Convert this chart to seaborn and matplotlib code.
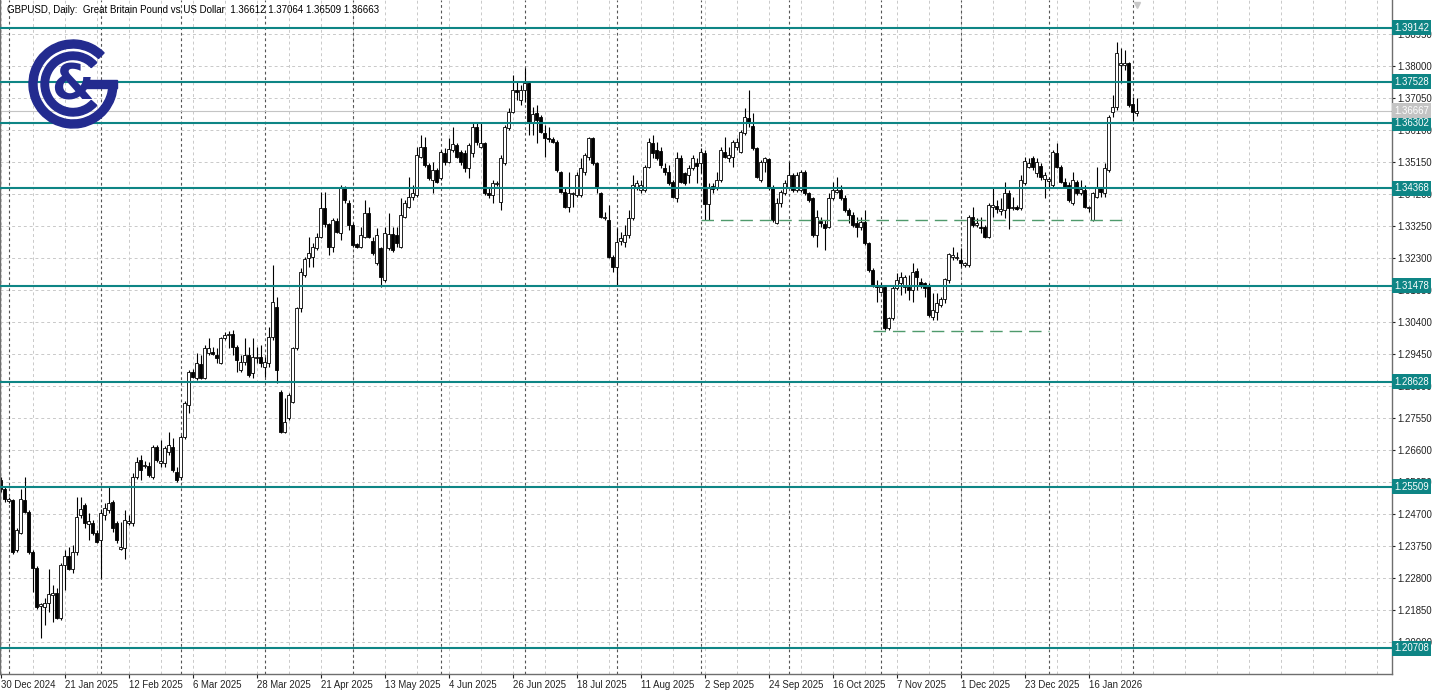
import numpy as np
import pandas as pd
import matplotlib
matplotlib.use("Agg")
import matplotlib.pyplot as plt
import seaborn as sns
from matplotlib.patches import Wedge, Rectangle
from matplotlib.transforms import blended_transform_factory

# ---------------- data ----------------
symbol_title = "GBPUSD, Daily:  Great Britain Pound vs US Dollar  1.36612 1.37064 1.36509 1.36663"

open_ = [
    1.2570, 1.2544, 1.2508, 1.2511, 1.2363, 1.2413, 1.2511, 1.2475, 1.2357, 1.2309,
    1.2196, 1.2193, 1.2205, 1.2229, 1.2235, 1.2161, 1.2318, 1.2345, 1.2306, 1.2357,
    1.2466, 1.2496, 1.2440, 1.2443, 1.2413, 1.2392, 1.2466, 1.2481, 1.2505, 1.2443,
    1.2366, 1.2369, 1.2443, 1.2443, 1.2579, 1.2630, 1.2612, 1.2612, 1.2579, 1.2669,
    1.2621, 1.2621, 1.2654, 1.2669, 1.2594, 1.2579, 1.2698, 1.2793, 1.2891, 1.2873,
    1.2915, 1.2873, 1.2948, 1.2951, 1.2942, 1.2918, 1.2992, 1.3001, 1.3004, 1.2966,
    1.2897, 1.2921, 1.2942, 1.2888, 1.2933, 1.2936, 1.2906, 1.2918, 1.2995, 1.3084,
    1.2832, 1.2713, 1.2755, 1.2802, 1.2963, 1.3081, 1.3179, 1.3230, 1.3233, 1.3260,
    1.3292, 1.3378, 1.3331, 1.3263, 1.3340, 1.3304, 1.3438, 1.3393, 1.3328, 1.3272,
    1.3263, 1.3292, 1.3363, 1.3280, 1.3215, 1.3260, 1.3164, 1.3260, 1.3301, 1.3298,
    1.3263, 1.3351, 1.3381, 1.3411, 1.3417, 1.3530, 1.3560, 1.3506, 1.3461, 1.3491,
    1.3467, 1.3542, 1.3515, 1.3551, 1.3566, 1.3545, 1.3542, 1.3497, 1.3542, 1.3619,
    1.3560, 1.3571, 1.3423, 1.3417, 1.3449, 1.3396, 1.3512, 1.3616, 1.3663, 1.3729,
    1.3699, 1.3729, 1.3750, 1.3634, 1.3660, 1.3648, 1.3601, 1.3586, 1.3583, 1.3574,
    1.3485, 1.3426, 1.3381, 1.3420, 1.3417, 1.3417, 1.3485, 1.3530, 1.3586, 1.3512,
    1.3423, 1.3349, 1.3343, 1.3233, 1.3203, 1.3280, 1.3277, 1.3298, 1.3349, 1.3441,
    1.3432, 1.3432, 1.3500, 1.3571, 1.3551, 1.3548, 1.3497, 1.3485, 1.3455, 1.3408,
    1.3527, 1.3482, 1.3476, 1.3497, 1.3512, 1.3512, 1.3542, 1.3390, 1.3444, 1.3438,
    1.3461, 1.3545, 1.3527, 1.3530, 1.3560, 1.3545, 1.3601, 1.3645, 1.3622, 1.3557,
    1.3461, 1.3515, 1.3524, 1.3441, 1.3334, 1.3393, 1.3423, 1.3441, 1.3476, 1.3432,
    1.3432, 1.3485, 1.3423, 1.3408, 1.3298, 1.3340, 1.3331, 1.3322, 1.3408, 1.3426,
    1.3432, 1.3408, 1.3372, 1.3357, 1.3334, 1.3322, 1.3337, 1.3274, 1.3194, 1.3150,
    1.3129, 1.3144, 1.3022, 1.3052, 1.3141, 1.3155, 1.3144, 1.3144, 1.3135, 1.3191,
    1.3158, 1.3155, 1.3150, 1.3055, 1.3069, 1.3090, 1.3108, 1.3164, 1.3233, 1.3230,
    1.3224, 1.3209, 1.3209, 1.3351, 1.3328, 1.3322, 1.3322, 1.3292, 1.3381, 1.3384,
    1.3369, 1.3372, 1.3423, 1.3378, 1.3381, 1.3378, 1.3452, 1.3500, 1.3527, 1.3482,
    1.3503, 1.3464, 1.3458, 1.3447, 1.3542, 1.3500, 1.3455, 1.3447, 1.3393, 1.3455,
    1.3423, 1.3432, 1.3378, 1.3343, 1.3411, 1.3438, 1.3423, 1.3491, 1.3663, 1.3678,
    1.3803, 1.3803, 1.3809, 1.3687, 1.36612,
]

high = [
    1.2579, 1.2553, 1.2520, 1.2514, 1.2428, 1.2544, 1.2579, 1.2481, 1.2363, 1.2315,
    1.2205, 1.2220, 1.2306, 1.2258, 1.2250, 1.2324, 1.2363, 1.2372, 1.2378, 1.2520,
    1.2520, 1.2502, 1.2472, 1.2452, 1.2422, 1.2484, 1.2502, 1.2553, 1.2511, 1.2449,
    1.2446, 1.2481, 1.2466, 1.2591, 1.2639, 1.2645, 1.2627, 1.2624, 1.2675, 1.2675,
    1.2689, 1.2672, 1.2713, 1.2695, 1.2609, 1.2704, 1.2805, 1.2897, 1.2900, 1.2948,
    1.2942, 1.2972, 1.2992, 1.2966, 1.2963, 1.2995, 1.3010, 1.3013, 1.3016, 1.2972,
    1.2942, 1.2992, 1.2966, 1.2992, 1.2966, 1.2972, 1.2936, 1.3025, 1.3209, 1.3114,
    1.2838, 1.2814, 1.2829, 1.2966, 1.3084, 1.3200, 1.3233, 1.3292, 1.3274, 1.3304,
    1.3426, 1.3426, 1.3334, 1.3349, 1.3349, 1.3447, 1.3444, 1.3402, 1.3334, 1.3274,
    1.3322, 1.3402, 1.3381, 1.3292, 1.3319, 1.3263, 1.3322, 1.3363, 1.3322, 1.3322,
    1.3408, 1.3402, 1.3470, 1.3447, 1.3560, 1.3595, 1.3589, 1.3512, 1.3515, 1.3497,
    1.3551, 1.3557, 1.3586, 1.3619, 1.3571, 1.3551, 1.3551, 1.3571, 1.3631, 1.3631,
    1.3631, 1.3574, 1.3438, 1.3461, 1.3458, 1.3536, 1.3625, 1.3675, 1.3773, 1.3752,
    1.3744, 1.3794, 1.3752, 1.3678, 1.3684, 1.3654, 1.3625, 1.3619, 1.3589, 1.3580,
    1.3488, 1.3438, 1.3485, 1.3426, 1.3485, 1.3527, 1.3542, 1.3589, 1.3589, 1.3515,
    1.3426, 1.3366, 1.3387, 1.3239, 1.3319, 1.3307, 1.3328, 1.3372, 1.3476, 1.3461,
    1.3461, 1.3506, 1.3586, 1.3595, 1.3574, 1.3560, 1.3512, 1.3506, 1.3461, 1.3545,
    1.3536, 1.3485, 1.3506, 1.3536, 1.3527, 1.3557, 1.3551, 1.3452, 1.3452, 1.3485,
    1.3560, 1.3589, 1.3560, 1.3580, 1.3586, 1.3610, 1.3675, 1.3729, 1.3660, 1.3560,
    1.3521, 1.3530, 1.3527, 1.3447, 1.3408, 1.3432, 1.3461, 1.3515, 1.3482, 1.3485,
    1.3491, 1.3491, 1.3426, 1.3411, 1.3372, 1.3351, 1.3343, 1.3423, 1.3455, 1.3470,
    1.3447, 1.3417, 1.3378, 1.3366, 1.3351, 1.3351, 1.3372, 1.3277, 1.3200, 1.3164,
    1.3158, 1.3150, 1.3055, 1.3150, 1.3185, 1.3188, 1.3179, 1.3179, 1.3215, 1.3200,
    1.3170, 1.3158, 1.3155, 1.3126, 1.3126, 1.3114, 1.3170, 1.3245, 1.3263, 1.3248,
    1.3260, 1.3218, 1.3357, 1.3381, 1.3349, 1.3351, 1.3328, 1.3393, 1.3441, 1.3402,
    1.3408, 1.3455, 1.3432, 1.3411, 1.3387, 1.3476, 1.3530, 1.3527, 1.3533, 1.3527,
    1.3512, 1.3485, 1.3470, 1.3551, 1.3571, 1.3506, 1.3467, 1.3455, 1.3485, 1.3461,
    1.3461, 1.3447, 1.3384, 1.3426, 1.3500, 1.3441, 1.3512, 1.3654, 1.3714, 1.3871,
    1.3854, 1.3848, 1.3812, 1.3708, 1.37064,
]

low = [
    1.2535, 1.2505, 1.2502, 1.2351, 1.2357, 1.2410, 1.2472, 1.2351, 1.2238, 1.2187,
    1.2101, 1.2140, 1.2178, 1.2149, 1.2158, 1.2155, 1.2244, 1.2303, 1.2294, 1.2348,
    1.2457, 1.2428, 1.2392, 1.2407, 1.2383, 1.2279, 1.2452, 1.2472, 1.2416, 1.2383,
    1.2363, 1.2336, 1.2437, 1.2434, 1.2573, 1.2570, 1.2606, 1.2579, 1.2573, 1.2624,
    1.2609, 1.2609, 1.2645, 1.2594, 1.2564, 1.2570, 1.2692, 1.2769, 1.2873, 1.2867,
    1.2870, 1.2870, 1.2942, 1.2942, 1.2918, 1.2915, 1.2986, 1.2963, 1.2942, 1.2891,
    1.2891, 1.2912, 1.2876, 1.2873, 1.2918, 1.2906, 1.2876, 1.2906, 1.2986, 1.2858,
    1.2710, 1.2710, 1.2749, 1.2799, 1.2957, 1.3069, 1.3173, 1.3203, 1.3203, 1.3254,
    1.3289, 1.3322, 1.3239, 1.3248, 1.3304, 1.3283, 1.3393, 1.3313, 1.3263, 1.3260,
    1.3260, 1.3289, 1.3289, 1.3239, 1.3209, 1.3144, 1.3158, 1.3254, 1.3248, 1.3263,
    1.3260, 1.3349, 1.3378, 1.3402, 1.3411, 1.3527, 1.3500, 1.3461, 1.3423, 1.3452,
    1.3461, 1.3506, 1.3512, 1.3545, 1.3527, 1.3506, 1.3485, 1.3467, 1.3530, 1.3566,
    1.3557, 1.3417, 1.3408, 1.3393, 1.3444, 1.3372, 1.3506, 1.3610, 1.3660, 1.3699,
    1.3684, 1.3693, 1.3595, 1.3595, 1.3571, 1.3601, 1.3530, 1.3574, 1.3571, 1.3485,
    1.3423, 1.3378, 1.3366, 1.3381, 1.3411, 1.3411, 1.3476, 1.3521, 1.3506, 1.3423,
    1.3349, 1.3343, 1.3230, 1.3188, 1.3150, 1.3269, 1.3263, 1.3289, 1.3343, 1.3432,
    1.3423, 1.3426, 1.3497, 1.3527, 1.3521, 1.3497, 1.3476, 1.3447, 1.3408, 1.3396,
    1.3452, 1.3447, 1.3452, 1.3491, 1.3452, 1.3482, 1.3343, 1.3343, 1.3423, 1.3432,
    1.3455, 1.3527, 1.3515, 1.3500, 1.3551, 1.3542, 1.3595, 1.3619, 1.3551, 1.3467,
    1.3455, 1.3485, 1.3432, 1.3337, 1.3331, 1.3381, 1.3417, 1.3438, 1.3426, 1.3426,
    1.3426, 1.3417, 1.3396, 1.3292, 1.3263, 1.3322, 1.3254, 1.3319, 1.3402, 1.3423,
    1.3402, 1.3366, 1.3334, 1.3322, 1.3292, 1.3313, 1.3269, 1.3188, 1.3144, 1.3099,
    1.3126, 1.3016, 1.3016, 1.3046, 1.3135, 1.3120, 1.3126, 1.3105, 1.3099, 1.3135,
    1.3141, 1.3114, 1.3055, 1.3046, 1.3046, 1.3084, 1.3096, 1.3155, 1.3224, 1.3224,
    1.3203, 1.3203, 1.3203, 1.3322, 1.3322, 1.3304, 1.3289, 1.3289, 1.3351, 1.3363,
    1.3357, 1.3349, 1.3316, 1.3372, 1.3372, 1.3372, 1.3447, 1.3497, 1.3491, 1.3470,
    1.3461, 1.3408, 1.3441, 1.3441, 1.3497, 1.3452, 1.3438, 1.3396, 1.3387, 1.3417,
    1.3417, 1.3378, 1.3366, 1.3340, 1.3408, 1.3411, 1.3411, 1.3485, 1.3648, 1.3669,
    1.3749, 1.3788, 1.3678, 1.3637, 1.36509,
]

close = [
    1.2544, 1.2514, 1.2514, 1.2357, 1.2422, 1.2514, 1.2475, 1.2357, 1.2309, 1.2193,
    1.2202, 1.2205, 1.2232, 1.2235, 1.2161, 1.2318, 1.2345, 1.2306, 1.2357, 1.2460,
    1.2484, 1.2443, 1.2449, 1.2413, 1.2386, 1.2472, 1.2487, 1.2502, 1.2428, 1.2392,
    1.2372, 1.2452, 1.2449, 1.2579, 1.2624, 1.2600, 1.2615, 1.2585, 1.2669, 1.2630,
    1.2627, 1.2666, 1.2675, 1.2600, 1.2570, 1.2698, 1.2799, 1.2891, 1.2876, 1.2918,
    1.2873, 1.2963, 1.2963, 1.2945, 1.2933, 1.2992, 1.3001, 1.3004, 1.2966, 1.2927,
    1.2921, 1.2942, 1.2882, 1.2936, 1.2936, 1.2918, 1.2921, 1.2995, 1.3099, 1.2897,
    1.2713, 1.2743, 1.2823, 1.2963, 1.3081, 1.3188, 1.3227, 1.3245, 1.3263, 1.3292,
    1.3378, 1.3331, 1.3263, 1.3343, 1.3307, 1.3441, 1.3402, 1.3328, 1.3269, 1.3263,
    1.3298, 1.3363, 1.3292, 1.3245, 1.3298, 1.3173, 1.3304, 1.3301, 1.3254, 1.3274,
    1.3357, 1.3393, 1.3411, 1.3423, 1.3536, 1.3560, 1.3506, 1.3467, 1.3491, 1.3455,
    1.3545, 1.3515, 1.3554, 1.3568, 1.3530, 1.3515, 1.3497, 1.3566, 1.3619, 1.3574,
    1.3571, 1.3423, 1.3417, 1.3452, 1.3452, 1.3527, 1.3619, 1.3663, 1.3729, 1.3723,
    1.3729, 1.3750, 1.3634, 1.3657, 1.3640, 1.3604, 1.3586, 1.3583, 1.3574, 1.3491,
    1.3426, 1.3381, 1.3423, 1.3423, 1.3476, 1.3497, 1.3536, 1.3586, 1.3512, 1.3441,
    1.3351, 1.3351, 1.3233, 1.3203, 1.3277, 1.3289, 1.3298, 1.3349, 1.3447, 1.3452,
    1.3447, 1.3500, 1.3574, 1.3542, 1.3527, 1.3506, 1.3485, 1.3452, 1.3411, 1.3527,
    1.3455, 1.3452, 1.3497, 1.3527, 1.3503, 1.3545, 1.3390, 1.3441, 1.3435, 1.3461,
    1.3551, 1.3530, 1.3536, 1.3574, 1.3574, 1.3604, 1.3648, 1.3631, 1.3557, 1.3470,
    1.3515, 1.3527, 1.3441, 1.3343, 1.3393, 1.3426, 1.3452, 1.3476, 1.3432, 1.3476,
    1.3485, 1.3423, 1.3402, 1.3298, 1.3351, 1.3334, 1.3319, 1.3408, 1.3432, 1.3432,
    1.3408, 1.3372, 1.3357, 1.3328, 1.3322, 1.3337, 1.3274, 1.3194, 1.3150, 1.3144,
    1.3144, 1.3022, 1.3052, 1.3141, 1.3164, 1.3173, 1.3173, 1.3135, 1.3188, 1.3173,
    1.3150, 1.3141, 1.3061, 1.3075, 1.3096, 1.3108, 1.3167, 1.3242, 1.3239, 1.3233,
    1.3215, 1.3215, 1.3351, 1.3328, 1.3334, 1.3319, 1.3292, 1.3387, 1.3387, 1.3375,
    1.3375, 1.3423, 1.3378, 1.3381, 1.3375, 1.3461, 1.3518, 1.3512, 1.3500, 1.3515,
    1.3470, 1.3476, 1.3464, 1.3545, 1.3500, 1.3455, 1.3441, 1.3402, 1.3461, 1.3423,
    1.3435, 1.3381, 1.3381, 1.3423, 1.3438, 1.3426, 1.3497, 1.3648, 1.3678, 1.3839,
    1.3809, 1.3809, 1.3684, 1.3663, 1.36663,
]

# horizontal levels (teal) and bid line
levels = [1.39142, 1.37528, 1.36302, 1.34368, 1.31478, 1.28628, 1.25509, 1.20708]
bid_price = 1.36667
# dashed support lines: (start bar, end bar, price)
support_start = [175, 218]
support_end = [282, 262]
support_price = [1.3343, 1.3014]

# axis tick values / labels
y_ticks = [1.20900, 1.21850, 1.22800, 1.23750, 1.24700, 1.25650, 1.26600, 1.27550,
           1.28500, 1.29450, 1.30400, 1.31350, 1.32300, 1.33250, 1.34200, 1.35150,
           1.36100, 1.37050, 1.38000, 1.38950]
x_tick_labels = ["30 Dec 2024", "21 Jan 2025", "12 Feb 2025", "6 Mar 2025", "28 Mar 2025",
                 "21 Apr 2025", "13 May 2025", "4 Jun 2025", "26 Jun 2025", "18 Jul 2025",
                 "11 Aug 2025", "2 Sep 2025", "24 Sep 2025", "16 Oct 2025", "7 Nov 2025",
                 "1 Dec 2025", "23 Dec 2025", "16 Jan 2026"]
closed_days = ["2025-12-25", "2026-01-01"]

# ---------------- styling ----------------
sns.set_theme(style="white")
plt.rcParams['font.family'] = ['Liberation Sans', 'DejaVu Sans']

TEAL = "#0e8585"
NAVY = "#232b8f"
GRID = "#c9c9c9"
SEP = "#555555"

df = pd.DataFrame({"open": open_, "high": high, "low": low, "close": close})
n = len(df)
dates = pd.bdate_range("2024-12-30", periods=n, freq="C", holidays=closed_days)
df["date"] = dates
df["x"] = np.arange(n)
month_starts = [i for i in range(1, n) if dates[i].month != dates[i - 1].month]

fig = plt.figure(figsize=(14.4, 6.93), dpi=100)
ax = fig.add_axes([0, 19 / 693, 1392 / 1440, 674 / 693])
ax.set_facecolor("white")

x_left, x_right = -0.1675, 347.83
y_bottom, y_top = 1.1995, 1.39959

# grid
for v in y_ticks:
    ax.axhline(v, color=GRID, lw=0.7, ls=(0, (3, 3)), zorder=0)
for k in range(0, 348, 8):
    ax.axvline(k, color=GRID, lw=0.7, ls=(0, (3, 3)), zorder=0)
for m in month_starts:
    ax.axvline(m, color=SEP, lw=0.8, ls=(0, (2.5, 2.5)), zorder=0.5)

# bid line
ax.axhline(bid_price, color="#c4c4c4", lw=0.8, zorder=1)

# candles: wicks then bodies
ax.vlines(df["x"], df["low"], df["high"], color="black", lw=0.8, zorder=2)
body_low = np.minimum(df["open"], df["close"])
body_h = np.maximum(np.abs(df["close"] - df["open"]), 0.00012)
colors = np.where(df["close"] >= df["open"], "white", "black")
ax.bar(df["x"], body_h, bottom=body_low, width=0.72, color=colors,
       edgecolor="black", linewidth=0.6, zorder=2.5)

# levels
for v in levels:
    ax.axhline(v, color=TEAL, lw=1.5, zorder=3)

# dashed supports
for s, e, p in zip(support_start, support_end, support_price):
    sns.lineplot(x=[s, e], y=[p, p], ax=ax, color="#4f9a6c", lw=1.0, zorder=3,
                 dashes=False, linestyle=(0, (9, 5)))

ax.set_xlim(x_left, x_right)
ax.set_ylim(y_bottom, y_top)

# y axis on the right
ax.yaxis.tick_right()
ax.set_yticks(y_ticks)
ax.set_yticklabels([f"{v:.5f}" for v in y_ticks])
ax.tick_params(axis="y", which="both", right=True, left=False, length=2.5, width=0.8,
               pad=1.5, labelsize=6.9, colors="#222222", direction="out")

# x axis
xt = list(range(0, 16 * len(x_tick_labels), 16))
ax.set_xticks(xt)
ax.set_xticklabels(x_tick_labels, ha="left")
ax.tick_params(axis="x", which="both", bottom=True, length=3, width=0.8, pad=1,
               labelsize=6.9, colors="#222222", direction="out")

ax.set_xlabel("")
ax.set_ylabel("")
for side in ["left", "right", "bottom"]:
    ax.spines[side].set_visible(True)
    ax.spines[side].set_color("#6e6e6e")
    ax.spines[side].set_linewidth(1.0)
ax.spines["top"].set_visible(False)

# level labels on the right axis
trans = blended_transform_factory(ax.transAxes, ax.transData)
for v in levels:
    ax.text(1.0015, v, f"{v:.5f}", transform=trans, ha="left", va="center",
            fontsize=6.9, color="white", zorder=6, clip_on=False,
            bbox=dict(boxstyle="square,pad=0.25", fc=TEAL, ec=TEAL, lw=0))
ax.text(1.0015, bid_price, f"{bid_price:.5f}", transform=trans, ha="left", va="center",
        fontsize=6.9, color="white", zorder=6, clip_on=False,
        bbox=dict(boxstyle="square,pad=0.25", fc="#c4c4c4", ec="#c4c4c4", lw=0))

# chart-shift marker
ax.plot([n - 1], [0.993], transform=blended_transform_factory(ax.transData, ax.transAxes),
        marker="v", ms=5, color="#c8c8c8", clip_on=False, zorder=5)

# title
fig.text(7 / 1440, 1 - 10 / 693, symbol_title, fontsize=7, color="black",
         ha="left", va="center")

# logo overlay (pixel coordinates, y up)
lax = fig.add_axes([0, 0, 1, 1], zorder=5)
lax.set_xlim(0, 1440)
lax.set_ylim(0, 693)
lax.axis("off")
lax.patch.set_alpha(0)
cx, cy = 73, 693 - 84
lax.add_patch(Wedge((cx, cy), 44, 45, 360, width=8, color=NAVY))
lax.add_patch(Rectangle((cx + 13, cy - 4), 31, 8, color=NAVY))
lax.add_patch(Wedge((cx, cy), 32, 42, 318, width=7.5, color=NAVY))
lax.text(cx - 1, cy - 2, "&", fontsize=35, fontweight="bold", color=NAVY,
         ha="center", va="center", family="DejaVu Sans")

fig.savefig("out.png", dpi=100)
